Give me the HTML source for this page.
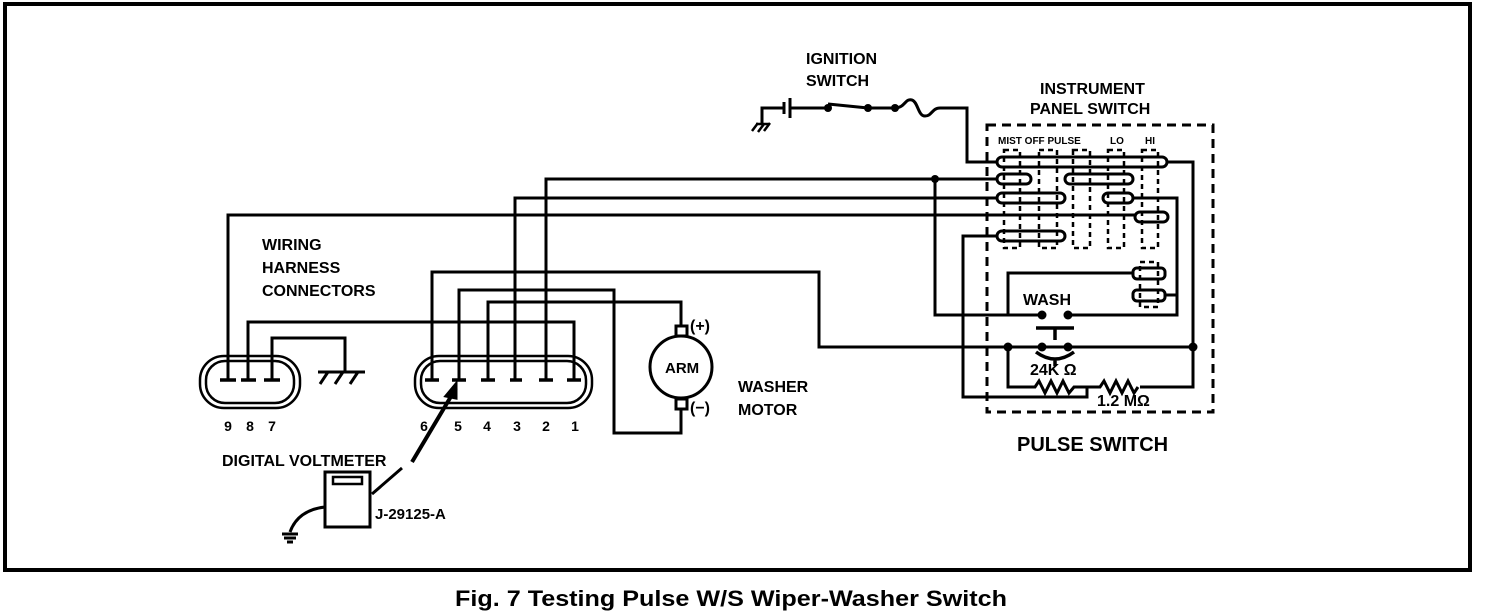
<!DOCTYPE html>
<html><head><style>
html,body{margin:0;padding:0;background:#fff;width:1504px;height:612px;overflow:hidden}
svg{display:block}
text{font-family:"Liberation Sans",Arial,sans-serif;fill:#000;font-weight:bold}
</style></head><body>
<svg width="1504" height="612" viewBox="0 0 1504 612" xmlns="http://www.w3.org/2000/svg">
<rect x="5" y="4" width="1465" height="566" fill="none" stroke="#000" stroke-width="4"/>
<g fill="none" stroke="#000" stroke-width="3">
<!-- ignition -->
<path d="M762 125 V108 H784 M790 108 H828"/>
<path d="M784 102 V114 M790 98 V118" stroke-width="3"/>
<path d="M828 104 L868 108 H895 C905 108 905 98 912 100 C918 102 918 116 925 116 C932 116 932 108 940 108 H967 V162 H997"/>
<path d="M752 131 l6 -8 M758 132 l6 -8 M764 131 l6 -8 M756 124 H770" stroke-width="2.5"/>
<!-- panel switch dashed box -->
<rect x="987" y="125" width="226" height="287" stroke-dasharray="9,6" stroke-width="3"/>
<g stroke-dasharray="5,4" stroke-width="2.5">
<rect x="1004" y="150" width="16" height="98"/>
<rect x="1039" y="150" width="18" height="98"/>
<rect x="1073" y="150" width="17" height="98"/>
<rect x="1108" y="150" width="16" height="98"/>
<rect x="1142" y="150" width="16" height="98"/>
<rect x="1140" y="262" width="18" height="45"/>
</g>
<rect x="997" y="157" width="170" height="10" rx="5"/>
<rect x="997" y="174" width="34" height="10" rx="5"/>
<rect x="1065" y="174" width="68" height="10" rx="5"/>
<rect x="997" y="193" width="68" height="10" rx="5"/>
<rect x="1103" y="193" width="30" height="10" rx="5"/>
<rect x="1135" y="212" width="33" height="10" rx="5"/>
<rect x="997" y="231" width="68" height="10" rx="5"/>
<rect x="1133" y="268" width="32" height="11" rx="4"/>
<rect x="1133" y="290" width="32" height="11" rx="4"/>
<path d="M1167 162 H1193 V387 H1140"/>
<path d="M546 380 V179 H997"/>
<path d="M515 380 V198 H997 M1133 198 H1177 V315 H1068 M1165 295 H1177"/>
<path d="M228 380 V215 H1135"/>
<path d="M997 236 H963 V397 H1087 V387"/>
<path d="M935 179 V315 H1042 M1008 315 V273 H1133"/>
<path d="M432 380 V272 H819 V347 H1193"/>
<path d="M1008 347 V387 H1035 l4 -6 l6 12 l6 -12 l6 12 l6 -12 l6 12 l5 -6 H1100 l4 -6 l6 12 l6 -12 l6 12 l6 -12 l6 12 l4 -6"/>
<path d="M1036 328 H1074 M1055 328 V340 M1036 352 Q1055 366 1074 352 M1055 359 V366" stroke-width="3.5"/>
<path d="M459 380 V290 H614 V433 H681 V410"/>
<path d="M488 380 V302 H681 V326"/>
<path d="M574 380 V322 H248 V380"/>
<path d="M272 380 V338 H345 V372"/>
<path d="M318 372 H365 M328 372 l-8 12 M343 372 l-8 12 M358 372 l-8 12"/>
<rect x="200" y="356" width="100" height="52" rx="24" stroke-width="2.5"/>
<rect x="206" y="361" width="88" height="42" rx="19" stroke-width="2.5"/>
<rect x="415" y="356" width="177" height="52" rx="24" stroke-width="2.5"/>
<rect x="421" y="361" width="165" height="42" rx="19" stroke-width="2.5"/>
<path d="M220 380 H236 M241 380 H256 M264 380 H280 M425 380 H439 M452 380 H466 M481 380 H495 M510 380 H522 M539 380 H553 M567 380 H581" stroke-width="3.5"/>
<circle cx="681" cy="367" r="31"/>
<rect x="676" y="326" width="11" height="10"/>
<rect x="676" y="399" width="11" height="10"/>
<path d="M412 462 L456 388" stroke-width="4"/>
<path d="M456 384 l-10 12 l10 2 z" fill="#000"/>
<rect x="325" y="472" width="45" height="55"/>
<rect x="333" y="477" width="29" height="7" stroke-width="2.5"/>
<path d="M372 494 L402 468 M325 507 Q298 510 290 532 M282 534 H298 M284 538 H296 M287 542 H293"/>
</g>
<g fill="#000">
<circle cx="828" cy="108" r="4"/><circle cx="868" cy="108" r="4"/><circle cx="895" cy="108" r="4"/>
<circle cx="935" cy="179" r="4"/>
<circle cx="1042" cy="315" r="4.5"/><circle cx="1068" cy="315" r="4.5"/>
<circle cx="1008" cy="347" r="4.5"/><circle cx="1042" cy="347" r="4.5"/><circle cx="1068" cy="347" r="4.5"/><circle cx="1193" cy="347" r="4.5"/>
</g>
<g font-size="16">
<text x="806" y="64">IGNITION</text>
<text x="806" y="86">SWITCH</text>
<text x="1040" y="94">INSTRUMENT</text>
<text x="1030" y="114">PANEL SWITCH</text>
<text x="262" y="250">WIRING</text>
<text x="262" y="273">HARNESS</text>
<text x="262" y="296">CONNECTORS</text>
<text x="1023" y="305">WASH</text>
<text x="1030" y="375">24K Ω</text>
<text x="1097" y="406">1.2 MΩ</text>
<text x="738" y="392">WASHER</text>
<text x="738" y="415">MOTOR</text>
<text x="665" y="373" font-size="15">ARM</text>
<text x="690" y="331">(+)</text>
<text x="690" y="413">(−)</text>
<text x="222" y="466">DIGITAL VOLTMETER</text>
<text x="375" y="519" font-size="15" font-weight="normal">J-29125-A</text>
<text x="1017" y="451" font-size="20">PULSE SWITCH</text>
</g>
<g font-size="10">
<text x="998" y="144">MIST OFF PULSE</text>
<text x="1110" y="144">LO</text><text x="1145" y="144">HI</text>
</g>
<g font-size="14" text-anchor="middle">
<text x="228" y="431">9</text><text x="250" y="431">8</text><text x="272" y="431">7</text>
<text x="424" y="431">6</text><text x="458" y="431">5</text><text x="487" y="431">4</text><text x="517" y="431">3</text><text x="546" y="431">2</text><text x="575" y="431">1</text>
</g>
<text x="731" y="606" font-size="22" font-weight="normal" text-anchor="middle" textLength="552" lengthAdjust="spacingAndGlyphs">Fig. 7 Testing Pulse W/S Wiper-Washer Switch</text>
</svg>
</body></html>
